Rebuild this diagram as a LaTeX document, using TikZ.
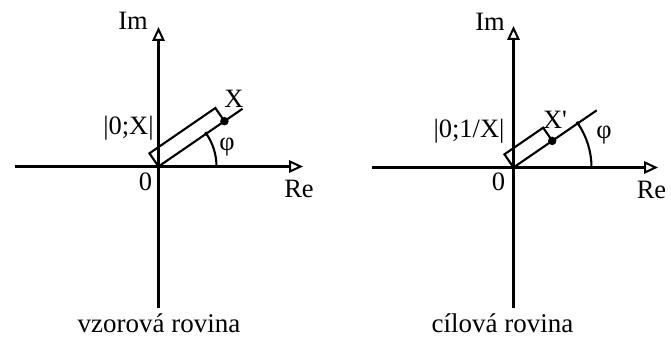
\documentclass[tikz,border=0pt]{standalone}
\usepackage{fontspec}
\setmainfont{Liberation Serif}
\usetikzlibrary{arrows.meta,calc}
\begin{document}
\begin{tikzpicture}[x=1pt,y=1pt,
  axisline/.style={line width=2.3pt},
  axis/.style={line width=2.3pt,-{Triangle[open,length=14pt,width=12.5pt,line width=2pt]}},
  plain/.style={line width=2.1pt},
  lbl/.style={inner sep=0pt,font=\fontsize{26.5}{30}\selectfont},
  captext/.style={inner sep=0pt,anchor=base,font=\fontsize{27}{31}\selectfont},
  dotm/.style={circle,fill=black,inner sep=0pt,minimum size=8.5pt},
  tickdot/.style={circle,fill=black,inner sep=0pt,minimum size=4pt}]
\useasboundingbox (0,0) rectangle (671,338);
% ---------- left plane ----------
\coordinate (OL) at (158.5,171.5);
\coordinate (LW) at (15,171.5);
\coordinate (LE) at (303,171.5);
\coordinate (LS) at (158.5,30);
\coordinate (LN) at (158.5,311);
\draw[axisline] (LW) -- (OL);
\draw[axis] (OL) -- (LE);
\draw[axisline] (LS) -- (OL);
\draw[axis] (OL) -- (LN);
\coordinate (XL) at ($(OL)+(34.5:80)$);
\coordinate (AL) at ($(OL)+(124.5:16)$);
\coordinate (BL) at ($(XL)+(124.5:16)$);
\coordinate (RL) at ($(OL)+(34.5:102)$);
\coordinate (PL) at ($(OL)+(34.5:58)$);
\coordinate (QL) at ($(OL)+(0:58)$);
\draw[plain] (OL) -- (RL);
\draw[plain,line join=miter] (OL) -- (AL) -- (BL) -- (XL);
\draw[plain] (QL) arc[start angle=0,end angle=34.5,radius=58];
\node[dotm] (dXL) at (XL) {};
\node[tickdot] (tPL) at (PL) {};
\node[lbl,anchor=base] (imL) at (133,308) {Im};
\node[lbl,anchor=base] (reL) at (299,141) {Re};
\node[lbl,anchor=base] (zL) at (145.5,148) {0};
\node[lbl,anchor=base] (mL) at (128.5,204) {|0;X|};
\node[lbl,anchor=base] (xL) at (234,230) {X};
\node[lbl] (phiL) at (227,190.5) {φ};
\node[captext] (cL) at (159,6) {vzorová rovina};
% ---------- right plane ----------
\coordinate (OR) at (513.5,170.5);
\coordinate (RW) at (372,170.5);
\coordinate (RE) at (658,170.5);
\coordinate (RS) at (513.5,30);
\coordinate (RN) at (513.5,312);
\draw[axisline] (RW) -- (OR);
\draw[axis] (OR) -- (RE);
\draw[axisline] (RS) -- (OR);
\draw[axis] (OR) -- (RN);
\coordinate (XR) at ($(OR)+(34.5:47)$);
\coordinate (AR) at ($(OR)+(124.5:16)$);
\coordinate (BR) at ($(XR)+(124.5:16)$);
\coordinate (RR) at ($(OR)+(34.5:101)$);
\coordinate (PR) at ($(OR)+(34.5:78)$);
\coordinate (QR) at ($(OR)+(0:78)$);
\draw[plain] (OR) -- (RR);
\draw[plain,line join=miter] (OR) -- (AR) -- (BR) -- (XR);
\draw[plain] (QR) arc[start angle=0,end angle=34.5,radius=78];
\node[dotm] (dXR) at (XR) {};
\node[tickdot] (tPR) at (PR) {};
\node[lbl,anchor=base] (imR) at (490,307) {Im};
\node[lbl,anchor=base] (reR) at (651.5,140) {Re};
\node[lbl,anchor=base] (zR) at (498.5,148) {0};
\node[lbl,anchor=base] (mR) at (469,201) {|0;1/X|};
\node[lbl,anchor=base] (xR) at (555,210) {X\textquotesingle};
\node[lbl] (phiR) at (604,202.5) {φ};
\node[captext] (cR) at (502.5,6) {cílová rovina};
\end{tikzpicture}
\end{document}
